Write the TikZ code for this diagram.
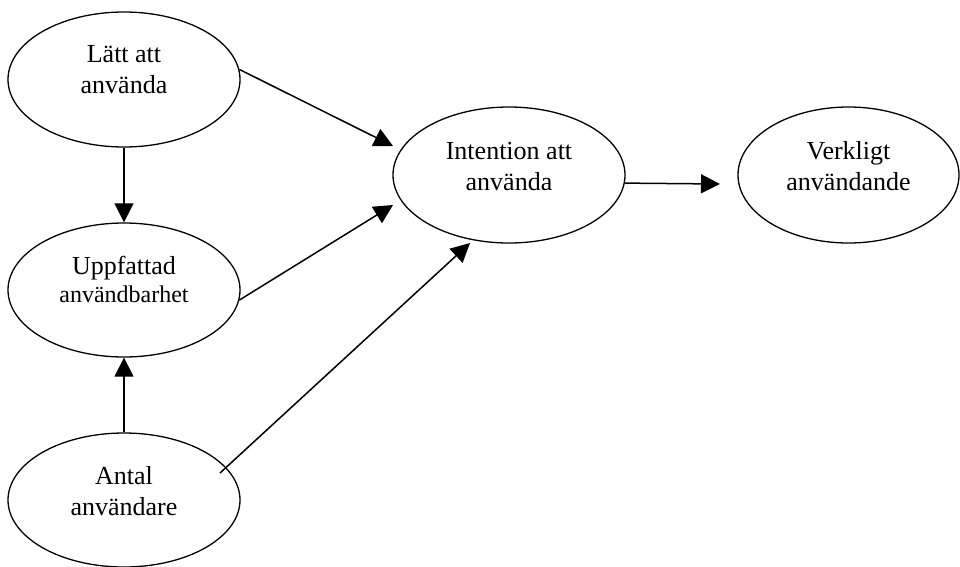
\documentclass[tikz,border=0pt]{standalone}
\usepackage{fontspec}
\setmainfont{Liberation Serif}
\usetikzlibrary{shapes.geometric,arrows.meta}
\begin{document}
\begin{tikzpicture}[x=1pt,y=-1pt,
    oval_node/.style={draw,ellipse,line width=1.3pt,inner sep=0pt,minimum width=232pt,minimum height=135pt},
    text_node/.style={align=center,inner sep=0pt,font=\fontsize{26}{31}\selectfont},
    arrow_line/.style={line width=1.5pt,-{Triangle[length=19pt,width=19pt]}}]
    \useasboundingbox (0,0) rectangle (960,566);
    % ovals
    \node[oval_node] (latt) at (124, 79.5) {};
    \node[oval_node,minimum height=134pt] (uppf) at (124, 290) {};
    \node[oval_node,minimum height=134pt] (antal) at (124, 500) {};
    \node[oval_node,minimum height=136pt] (intent) at (509, 175) {};
    \node[oval_node,minimum width=221pt,minimum height=136pt] (verk) at (848.5, 175) {};
    % texts
    \node[text_node] (latt_text) at ([yshift=9.7pt]latt.center) {Lätt att\\använda};
    \node[text_node] (uppf_text) at ([yshift=11pt]uppf.center) {Uppfattad\\[-3pt]{\fontsize{24}{28}\selectfont användbarhet}};
    \node[text_node] (antal_text) at ([yshift=9pt]antal.center) {Antal\\användare};
    \node[text_node] (intent_text) at ([yshift=8.5pt]intent.center) {Intention att\\använda};
    \node[text_node] (verk_text) at ([yshift=8.5pt]verk.center) {Verkligt\\användande};
    % arrows
    \coordinate (latt_in) at (393, 146);
    \coordinate (uppf_in) at (393, 205);
    \coordinate (antal_out) at (220, 473);
    \coordinate (antal_in) at (470, 243);
    \coordinate (verk_in) at (720, 184);
    \draw[arrow_line] (latt.5) -- (latt_in);
    \draw[arrow_line] (latt.south) -- (uppf.north);
    \draw[arrow_line] (uppf.-5) -- (uppf_in);
    \draw[arrow_line] (antal.north) -- (uppf.south);
    \draw[arrow_line] (antal_out) -- (antal_in);
    \draw[arrow_line] (intent.-4.5) -- (verk_in);
\end{tikzpicture}
\end{document}
